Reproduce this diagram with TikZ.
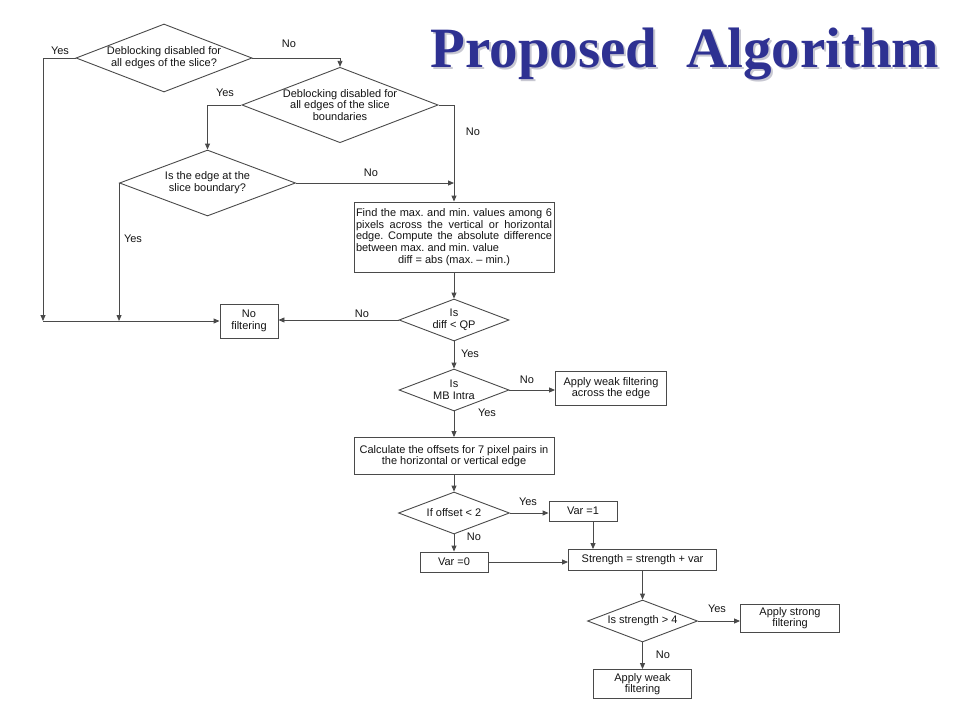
\documentclass[tikz,border=0pt]{standalone}
\usepackage{fontspec}
\usepackage{xcolor}
\definecolor{algo-blue}{HTML}{2E3192}
\definecolor{algo-shadow}{HTML}{C8C8D2}
\definecolor{algo-line}{HTML}{4A4A4A}
\definecolor{algo-text}{HTML}{141414}
\newfontfamily\flowfont{Liberation Sans}
\newfontfamily\titlefont{Liberation Serif}
\usepackage{tikz}
\usetikzlibrary{shapes.geometric,arrows.meta}

\tikzset{
  flow/.style={font=\flowfont\fontsize{11}{11.7}\selectfont, text=algo-text},
  decision/.style={flow, diamond, draw=algo-line, line width=0.9pt, inner sep=0pt, align=center, aspect=2.6},
  process/.style={flow, rectangle, draw=algo-line, line width=0.9pt, inner sep=2pt, align=center},
  link/.style={draw=algo-line, line width=0.9pt, -{Triangle[length=6pt,width=5pt]}},
  lbl/.style={flow, inner sep=0pt},
  headline/.style={anchor=base, inner sep=0pt, font=\titlefont\bfseries\fontsize{57}{60}\selectfont}
}

\begin{document}
\frenchspacing
\begin{tikzpicture}[x=1pt, y=-1pt]

    % Background
    \fill[white] (0,0) rectangle (960,720);
    \useasboundingbox (0,0) rectangle (960,720);

    % Title
    \node[headline, text=algo-shadow] (title-shadow) at (687,69) {Proposed\ \ Algorithm};
    \node[headline, text=algo-blue] (title) at (685,67) {Proposed\ \ Algorithm};

    % Slice checks
    \node[decision, minimum width=176pt, minimum height=68pt] (slice) at (164,58) {Deblocking disabled for\\all edges of the slice?};
    \node[decision, minimum width=188pt, minimum height=72pt] (bound) at (340,105) {Deblocking disabled for\\all edges of the slice\\boundaries};
    \node[decision, minimum width=176pt, minimum height=66pt, aspect=2.7] (edge) at (207.5,183) {Is the edge at the\\slice boundary?};

    % Max / min
    \node[process, minimum height=70pt, text width=196pt, align=justify] (minmax) at (454,237)
        {Find the max. and min. values among 6\linebreak pixels across the vertical or horizontal\linebreak edge. Compute the absolute difference\linebreak between max. and min. value\par\makebox[\hsize]{diff = abs (max. \textendash\ min.)}};
    \node[process, minimum width=58pt, minimum height=34pt] (nofilt) at (249,321) {No\\filtering};
    \node[decision, minimum width=110pt, minimum height=42pt] (diffqp) at (454,320) {Is\\diff < QP};
    \node[decision, minimum width=110pt, minimum height=42pt] (intra) at (454,390) {Is\\MB Intra};
    \node[process, minimum width=111pt, minimum height=34pt] (across) at (611,388) {Apply weak filtering\\across the edge};

    % Offsets
    \node[process, minimum width=200pt, minimum height=37pt] (offsets) at (454,456) {Calculate the offsets for 7 pixel pairs in\\the horizontal or vertical edge};
    \node[decision, minimum width=111pt, minimum height=42pt] (offset) at (454,513) {If offset < 2};
    \node[process, minimum width=68pt, minimum height=20pt] (varone) at (583,511) {Var =1};
    \node[process, minimum width=68pt, minimum height=20pt] (varzero) at (454,562) {Var =0};
    \node[process, minimum width=148pt, minimum height=21pt] (strength) at (642.5,560) {Strength = strength + var};

    % Strength
    \node[decision, minimum width=110pt, minimum height=42pt] (strong) at (642.5,621) {Is strength > 4};
    \node[process, minimum width=99pt, minimum height=28pt] (strongf) at (790,618) {Apply strong\\filtering};
    \node[process, minimum width=98pt, minimum height=29pt] (weakf) at (642.5,684) {Apply weak\\filtering};

    % Rails
    \coordinate (rail) at (43,321);

    % Connectors
    \draw[link] (slice.west) -| (rail);
    \draw[link] (edge.west) -- (edge.west |- rail);
    \draw[link] (rail) -- (nofilt.west);
    \draw[link] (slice.east) -| (bound.north);
    \draw[link] (bound.west) -| (edge.north);
    \draw[link] (bound.east) -| (minmax.north);
    \draw[link] (edge.east) -- (edge.east -| minmax.north);
    \draw[link] (minmax.south) -- (diffqp.north);
    \draw[link] (diffqp.west) -- (diffqp.west -| nofilt.east);
    \draw[link] (diffqp.south) -- (intra.north);
    \draw[link] (intra.east) -- (intra.east -| across.west);
    \draw[link] (intra.south) -- (offsets.north);
    \draw[link] (offsets.south) -- (offset.north);
    \draw[link] (offset.east) -- (offset.east -| varone.west);
    \draw[link] (offset.south) -- (varzero.north);
    \draw[link] (varzero.east) -- (varzero.east -| strength.west);
    \draw[link] ([xshift=10pt]varone.south) -- ([xshift=10pt]varone.south |- strength.north);
    \draw[link] (strength.south) -- (strong.north);
    \draw[link] (strong.east) -- (strong.east -| strongf.west);
    \draw[link] (strong.south) -- (weakf.north);

    % Labels
    \node[lbl] (yes-slice) at (60,51) {Yes};
    \node[lbl] (no-slice) at (289,44) {No};
    \node[lbl] (yes-bound) at (225,93) {Yes};
    \node[lbl] (no-bound) at (473,132) {No};
    \node[lbl] (no-edge) at (371,173) {No};
    \node[lbl] (yes-edge) at (133,239) {Yes};
    \node[lbl] (no-diffqp) at (362,314) {No};
    \node[lbl] (yes-diffqp) at (470,354) {Yes};
    \node[lbl] (no-intra) at (527,380) {No};
    \node[lbl] (yes-intra) at (487,413) {Yes};
    \node[lbl] (yes-offset) at (528,502) {Yes};
    \node[lbl] (no-offset) at (474,537) {No};
    \node[lbl] (yes-strong) at (717,609) {Yes};
    \node[lbl] (no-strong) at (663,655) {No};

\end{tikzpicture}
\end{document}
